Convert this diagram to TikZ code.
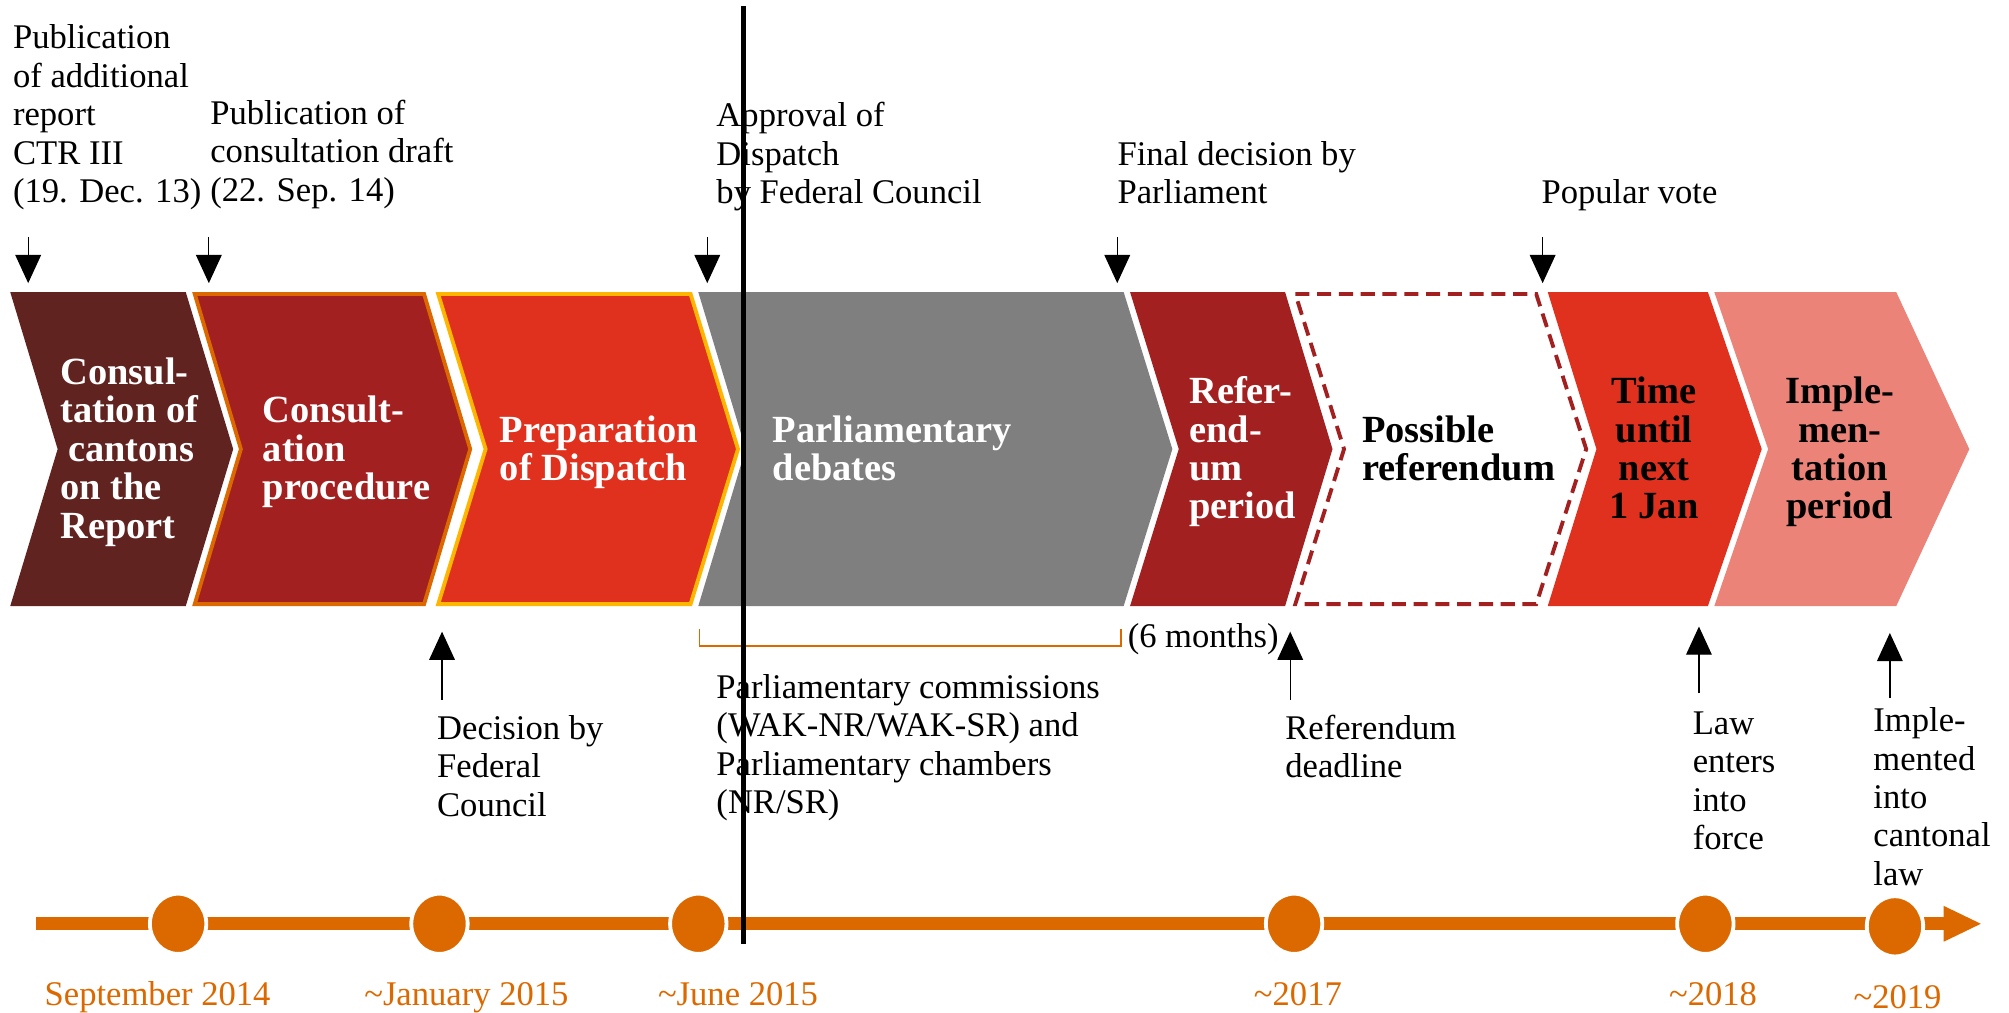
\documentclass[tikz,border=0pt]{standalone}
\usepackage{fontspec}
\setmainfont{Liberation Serif}
\usetikzlibrary{arrows.meta,shapes.geometric}
\definecolor{cBrown}{HTML}{602320}
\definecolor{cDark}{HTML}{A32020}
\definecolor{cRed}{HTML}{E0301E}
\definecolor{cGrey}{HTML}{7F7F7F}
\definecolor{cPink}{HTML}{EC8379}
\definecolor{cOrange}{HTML}{DC6900}
\definecolor{cGold}{HTML}{FFB600}
\begin{document}
\begin{tikzpicture}[x=1pt,y=-1pt,
  lbl/.style={anchor=base west, align=left, font=\fontsize{27}{30}\selectfont, inner sep=0pt},
  ttl/.style={anchor=base west, align=left, font=\fontsize{30}{30}\selectfont\bfseries, inner sep=0pt, text=white},
  ttc/.style={anchor=base, align=center, font=\fontsize{30}{30}\selectfont\bfseries, inner sep=0pt, text=black},
  yr/.style={anchor=base, font=\fontsize{27}{30}\selectfont, inner sep=0pt, text=cOrange},
  arr/.style={-{Triangle[width=20pt,length=22pt]}, line width=1pt, black},
  dot/.style={ellipse, minimum width=44pt, minimum height=47pt, fill=cOrange, draw=white, line width=3pt, inner sep=0pt}
]
\useasboundingbox (0,0) rectangle (1568,790);
\fill[white] (0,0) rectangle (1568,790);

% chevrons
\def\yt{228}\def\ym{350.5}\def\yb{473}
\fill[cBrown] (8,\yt) -- (145,\yt) -- (182,\ym) -- (145,\yb) -- (8,\yb) -- (45,\ym) -- cycle;
\filldraw[fill=cDark, draw=cOrange, line width=3pt] (152,229.5) -- (331,229.5) -- (367,\ym) -- (331,471.5) -- (152,471.5) -- (188,\ym) -- cycle;
\filldraw[fill=cRed, draw=cGold, line width=3pt] (342,229.5) -- (539,229.5) -- (576,\ym) -- (539,471.5) -- (342,471.5) -- (379,\ym) -- cycle;
\fill[cGrey] (545,\yt) -- (877,\yt) -- (915,\ym) -- (877,\yb) -- (545,\yb) -- (582,\ym) -- cycle;
\fill[cDark] (882,\yt) -- (1003,\yt) -- (1040,\ym) -- (1003,\yb) -- (882,\yb) -- (920,\ym) -- cycle;
\filldraw[fill=white, draw=cDark, line width=3pt, dash pattern=on 11pt off 6pt] (1011,229.5) -- (1199,229.5) -- (1238,\ym) -- (1199,471.5) -- (1011,471.5) -- (1049,\ym) -- cycle;
\fill[cRed] (1208,\yt) -- (1333,\yt) -- (1375,\ym) -- (1333,\yb) -- (1208,\yb) -- (1246,\ym) -- cycle;
\fill[cPink] (1338,\yt) -- (1480,\yt) -- (1537,\ym) -- (1480,\yb) -- (1338,\yb) -- (1380,\ym) -- cycle;

% chevron texts (anchor = baseline of last line)
\node[ttl] (t1) at (47,420) {Consul-\\tation of\\\hspace*{6pt}cantons\\on the\\Report};
\node[ttl] (t2) at (205,390) {Consult-\\ation\\procedure};
\node[ttl] (t3) at (390,375) {Preparation\\of Dispatch};
\node[ttl] (t4) at (603,375) {Parliamentary\\debates};
\node[ttl] (t5) at (928,405) {Refer-\\end-\\um\\period};
\node[ttl, text=black] (t6) at (1063,375) {Possible\\referendum};
\node[ttc] (t7) at (1291,405) {Time\\until\\next\\1 Jan};
\node[ttc] (t8) at (1436,405) {Imple-\\men-\\tation\\period};

% top labels
\node[lbl] (l1) at (10,158) {Publication\\of additional\\report\\CTR III\\(19. Dec. 13)};
\node[lbl] (l2) at (164,157) {Publication of\\consultation draft\\(22. Sep. 14)};
\node[lbl] (l3) at (559,159) {Approval of\\Dispatch\\by Federal Council};
\node[lbl] (l4) at (872,159) {Final decision by\\Parliament};
\node[lbl] (l5) at (1203,159) {Popular vote};

% down arrows
\foreach \n/\x in {1/22,2/163,3/552,4/872,5/1204}{
  \coordinate (d\n s) at (\x,185);
  \coordinate (d\n e) at (\x,221);
  \draw[arr] (d\n s) -- (d\n e);
}

% bracket
\coordinate (b1) at (546,491);
\coordinate (b2) at (546,504);
\coordinate (b3) at (875,504);
\coordinate (b4) at (875,491);
\draw[cOrange, line width=1.3pt] (b1) -- (b2) -- (b3) -- (b4);
\node[lbl] (six) at (880,505) {(6 months)};

% up arrows
\foreach \n/\x/\ya/\yb in {1/345/546/493,2/1007/546/493,3/1326/541/489,4/1475/545/494}{
  \coordinate (u\n s) at (\x,\ya);
  \coordinate (u\n e) at (\x,\yb);
  \draw[arr] (u\n s) -- (u\n e);
}

% bottom labels
\node[lbl] (m1) at (341,637) {Decision by\\Federal\\Council};
\node[lbl] (m2) at (559,635) {Parliamentary commissions\\(WAK-NR/WAK-SR) and\\Parliamentary chambers\\(NR/SR)};
\node[lbl] (m3) at (1003,607) {Referendum\\deadline};
\node[lbl] (m4) at (1321,663) {Law\\enters\\into\\force};
\node[lbl] (m5) at (1462,691) {Imple-\\mented\\into\\cantonal\\law};

% timeline
\coordinate (tl0) at (28,721);
\coordinate (tl1) at (1518,721);
\draw[cOrange, line width=10pt] (tl0) -- (tl1);
\coordinate (ah1) at (1517,707);
\coordinate (ah2) at (1546,721);
\coordinate (ah3) at (1517,735);
\fill[cOrange] (ah1) -- (ah2) -- (ah3) -- cycle;
\node[dot] (c1) at (139,721) {};
\node[dot] (c2) at (343,721) {};
\node[dot] (c3) at (545,721) {};
\node[dot] (c4) at (1010,721) {};
\node[dot] (c5) at (1331,721) {};
\node[dot] (c6) at (1479,723) {};

\node[yr] (y1) at (123,785) {September 2014};
\node[yr] (y2) at (364,785) {\textasciitilde January 2015};
\node[yr] (y3) at (576,785) {\textasciitilde June 2015};
\node[yr] (y4) at (1013,785) {\textasciitilde 2017};
\node[yr] (y5) at (1337,785) {\textasciitilde 2018};
\node[yr] (y6) at (1481,787) {\textasciitilde 2019};

% vertical black line
\coordinate (v1) at (580,5);
\coordinate (v2) at (580,737);
\draw[black, line width=4pt] (v1) -- (v2);
\end{tikzpicture}
\end{document}
